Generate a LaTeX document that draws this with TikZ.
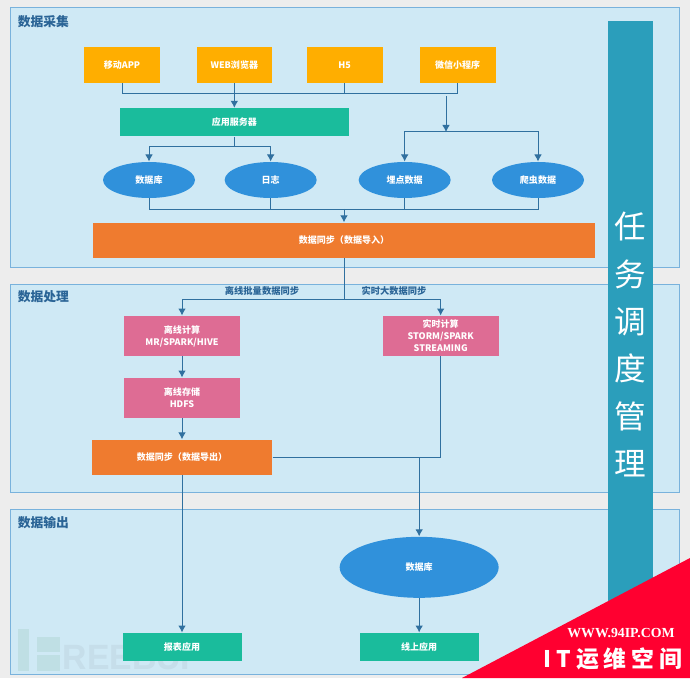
\documentclass[tikz,border=0pt]{standalone}
\usepackage{fontspec}
\usepackage{xcolor}
\usetikzlibrary{arrows.meta,shapes.geometric}
\setmainfont{Noto Sans CJK SC}
\newfontfamily\markserif{Liberation Serif}
\newfontfamily\markcjk[LetterSpace=22]{Noto Sans CJK SC}
\newfontfamily\wmfont{Liberation Sans}
\definecolor{FlowPage}{HTML}{EDEDED}
\definecolor{FlowPanel}{HTML}{CFE9F5}
\definecolor{FlowEdge}{HTML}{79B2DC}
\definecolor{FlowLine}{HTML}{30709F}
\definecolor{FlowTitle}{HTML}{2A6496}
\definecolor{FlowAmber}{HTML}{FFAE00}
\definecolor{FlowGreen}{HTML}{1ABC9C}
\definecolor{FlowBlue}{HTML}{3091DB}
\definecolor{FlowOrange}{HTML}{EF7B2F}
\definecolor{FlowPink}{HTML}{DE6C94}
\definecolor{FlowTeal}{HTML}{2B9EBB}
\definecolor{FlowRed}{HTML}{FF0030}
\definecolor{FlowMark}{HTML}{BFDFE4}
\definecolor{FlowMarkText}{HTML}{C6DEEA}

\begin{document}
\begin{tikzpicture}[>={Latex[length=2.1mm,width=2.3mm]}, line width=0.85pt,
  txt/.style={text=white, font=\bfseries\fontsize{7.7}{10.2}\selectfont, align=center, inner sep=0pt},
  panel/.style={rectangle, draw=FlowEdge, fill=FlowPanel, minimum width=20.07cm, inner sep=0pt},
  ttl/.style={font=\bfseries\fontsize{10.9}{13}\selectfont, text=FlowTitle, inner sep=0pt},
  lab/.style={font=\bfseries\fontsize{7.9}{10}\selectfont, text=FlowTitle, inner sep=0pt},
  src/.style={txt, rectangle, fill=FlowAmber, minimum width=2.27cm, minimum height=1.08cm},
  app/.style={txt, rectangle, fill=FlowGreen, minimum height=0.84cm},
  store/.style={txt, ellipse, fill=FlowBlue, minimum width=2.76cm, minimum height=1.08cm},
  sync/.style={txt, rectangle, fill=FlowOrange, minimum height=1.05cm},
  calc/.style={txt, rectangle, fill=FlowPink, minimum width=3.48cm, minimum height=1.2cm},
  link/.style={FlowLine}]
\fill[FlowPage] (0,0) rectangle (20.7,20.34);
\useasboundingbox (0,0) rectangle (20.7,20.34);
\node[panel, minimum height=7.77cm] (collect) at (10.335,16.215) {};
\node[panel, minimum height=6.24cm] (process) at (10.335,8.70) {};
\node[panel, minimum height=4.95cm] (output) at (10.335,2.595) {};
\fill[FlowMark] (0.54,0.21) rectangle (0.87,1.47);
\fill[FlowMark] (1.11,0.78) rectangle (1.80,1.23);
\fill[FlowMark] (1.11,0.21) rectangle (1.80,0.69);
\node[font=\wmfont\bfseries\fontsize{30}{30}\selectfont, text=FlowMarkText, xscale=0.96, transform shape, inner sep=0pt] (mark) at (3.96,0.615) {REEBUF};
\node[ttl] (collectT) at (1.30,19.68) {数据采集};
\node[ttl] (processT) at (1.30,11.43) {数据处理};
\node[ttl] (outputT) at (1.30,4.65) {数据输出};
\node[rectangle, fill=FlowTeal, minimum width=1.35cm, minimum height=19.41cm, text=white, align=center, inner sep=0pt, font=\fontsize{27}{40.5}\selectfont] (sched) at (18.92,10.00) {任\\务\\调\\度\\管\\理};
\node[src] (mobile) at (3.66,18.39) {移动APP};
\node[src] (web) at (7.03,18.39) {WEB浏览器};
\node[src] (hfive) at (10.34,18.39) {H5};
\node[src] (wechat) at (13.73,18.39) {微信小程序};
\node[app, minimum width=6.87cm] (server) at (7.03,16.67) {应用服务器};
\node[store] (db) at (4.47,14.94) {数据库};
\node[store] (logs) at (8.12,14.94) {日志};
\node[store] (track) at (12.14,14.94) {埋点数据};
\node[store] (crawler) at (16.14,14.94) {爬虫数据};
\node[sync, minimum width=15.06cm] (syncin) at (10.32,13.13) {数据同步（数据导入）};
\node[calc] (offline) at (5.46,10.26) {离线计算\\MR/SPARK/HIVE};
\node[calc] (realtime) at (13.22,10.26) {实时计算\\STORM/SPARK\\STREAMING};
\node[calc] (hdfs) at (5.46,8.40) {离线存储\\HDFS};
\node[sync, minimum width=5.40cm] (syncout) at (5.46,6.62) {数据同步（数据导出）};
\node[txt, ellipse, fill=FlowBlue, minimum width=4.77cm, minimum height=1.83cm] (dbout) at (12.575,3.32) {数据库};
\node[app, minimum width=3.57cm] (report) at (5.46,0.93) {报表应用};
\node[app, minimum width=3.57cm] (online) at (12.575,0.93) {线上应用};
\node[lab] (offlab) at (7.86,11.61) {离线批量数据同步};
\node[lab] (reallab) at (11.82,11.61) {实时大数据同步};
\coordinate (inbus) at (7.03,17.52);
\coordinate (trackin) at (13.38,17.46);
\coordinate (trackbus) at (13.38,16.38);
\coordinate (serverbus) at (7.03,15.93);
\coordinate (syncbus) at (10.32,14.07);
\coordinate (splitbus) at (10.32,11.37);
\coordinate (mergebus) at (12.575,6.62);
\draw[link] (mobile.south) |- (inbus);
\draw[link] (wechat.south) |- (inbus);
\draw[link] (hfive.south) -- (hfive |- inbus);
\draw[->,link] (web.south) -- (server.north);
\draw[->,link] (trackin) -- (trackbus);
\draw[->,link] (trackbus) -| (track.north);
\draw[->,link] (trackbus) -| (crawler.north);
\draw[link] (server.south) -- (serverbus);
\draw[->,link] (serverbus) -| (db.north);
\draw[->,link] (serverbus) -| (logs.north);
\draw[link] (db.south) |- (syncbus);
\draw[link] (logs.south) |- (syncbus);
\draw[link] (track.south) |- (syncbus);
\draw[link] (crawler.south) |- (syncbus);
\draw[->,link] (syncbus) -- (syncin.north);
\draw[link] (syncin.south) -- (splitbus);
\draw[->,link] (splitbus) -| (offline.north);
\draw[->,link] (splitbus) -| (realtime.north);
\draw[->,link] (offline.south) -- (hdfs.north);
\draw[->,link] (hdfs.south) -- (syncout.north);
\draw[->,link] (syncout.south) -- (report.north);
\draw[link] (syncout.east) -- (mergebus);
\draw[link] (realtime.south) |- (mergebus);
\draw[->,link] (mergebus) -- (dbout.north);
\draw[->,link] (dbout.south) -- (online.north);
\fill[FlowRed] (20.7,3.60) -- (20.7,0) -- (13.86,0) -- cycle;
\node[font=\markserif\bfseries\fontsize{11.8}{13}\selectfont, text=white, inner sep=0pt] (siteurl) at (18.63,1.35) {WWW.94IP.COM};
\node[font=\markcjk\bfseries\fontsize{19.5}{24}\selectfont, text=white, inner sep=0pt] (sitename) at (18.39,0.57) {IT运维空间};
\end{tikzpicture}
\end{document}
